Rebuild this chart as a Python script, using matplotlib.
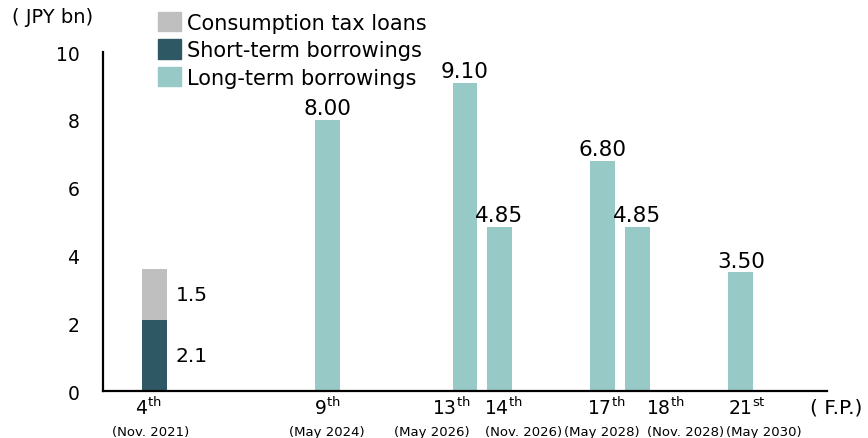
import matplotlib.pyplot as plt
from matplotlib.patches import Patch
from matplotlib.transforms import blended_transform_factory

# Repayment schedule by fiscal period
periods = [4, 9, 13, 14, 17, 18, 21]
suffixes = ["th", "th", "th", "th", "th", "th", "st"]
dates = ["(Nov. 2021)", "(May 2024)", "(May 2026)", "(Nov. 2026)",
         "(May 2028)", "(Nov. 2028)", "(May 2030)"]
long_term = [0, 8.00, 9.10, 4.85, 6.80, 4.85, 3.50]
short_term = [2.1, 0, 0, 0, 0, 0, 0]
consumption_tax = [1.5, 0, 0, 0, 0, 0, 0]

# label nudges (in periods) so neighbouring labels don't collide
num_shift = [-0.2, 0, -0.4, 0.12, 0.09, 0.81, 0.17]
date_shift = [-0.12, 0, -0.96, 0.70, -0.03, 1.39, 0.67]

c_cons = "#bfbfbf"
c_short = "#2e5964"
c_long = "#97c9c7"

plt.rcParams["font.family"] = "DejaVu Sans"

fig = plt.figure(figsize=(8.68, 4.39), dpi=100)
ax = fig.add_axes([0.1187, 0.107, 0.834, 0.772])

w = 0.72
ax.bar(periods, long_term, width=w, color=c_long)
ax.bar(periods, short_term, width=w, color=c_short)
ax.bar(periods, consumption_tax, width=w, bottom=short_term, color=c_cons)

# value labels
for x, v in zip(periods, long_term):
    if v > 0:
        ax.text(x, v + 0.05, f"{v:.2f}", ha="center", va="bottom", fontsize=15.5)
for x, s, c in zip(periods, short_term, consumption_tax):
    if s > 0:
        ax.text(x + 0.6, s / 2, f"{s:.1f}", ha="left", va="center", fontsize=14.5)
    if c > 0:
        ax.text(x + 0.6, s + c / 2, f"{c:.1f}", ha="left", va="center", fontsize=14.5)

ax.set_xlim(2.5, 23.5)
ax.set_ylim(0, 10)
ax.set_yticks([0, 2, 4, 6, 8, 10])
ax.tick_params(axis="y", length=0, labelsize=13.5, pad=17)
ax.set_xticks([])

for side in ["top", "right"]:
    ax.spines[side].set_visible(False)
ax.spines["left"].set_linewidth(1.6)
ax.spines["bottom"].set_linewidth(1.6)

# x labels: period number with superscript, date underneath
trans = blended_transform_factory(ax.transData, ax.transAxes)
for x, suf, d, ns, ds in zip(periods, suffixes, dates, num_shift, date_shift):
    ax.text(x + ns, -0.047, f"{x}$^{{\\mathrm{{{suf}}}}}$", transform=trans,
            ha="center", va="center", fontsize=13.5)
    ax.text(x + ds, -0.118, d, transform=trans, ha="center", va="center", fontsize=9.5)

fig.text(0.9635, 0.0706, "( F.P.)", ha="center", va="center", fontsize=14.5)
fig.text(0.060, 0.959, "( JPY bn)", ha="center", va="center", fontsize=14)

handles = [Patch(color=c_cons), Patch(color=c_short), Patch(color=c_long)]
labels = ["Consumption tax loans", "Short-term borrowings", "Long-term borrowings"]
fig.legend(handles, labels, loc="upper left", bbox_to_anchor=(0.165, 1.004),
           frameon=False, fontsize=15, handlelength=1.1, handleheight=1.05,
           handletextpad=0.3, labelspacing=0.33, borderaxespad=0.3)

fig.savefig("out.png", dpi=100)
